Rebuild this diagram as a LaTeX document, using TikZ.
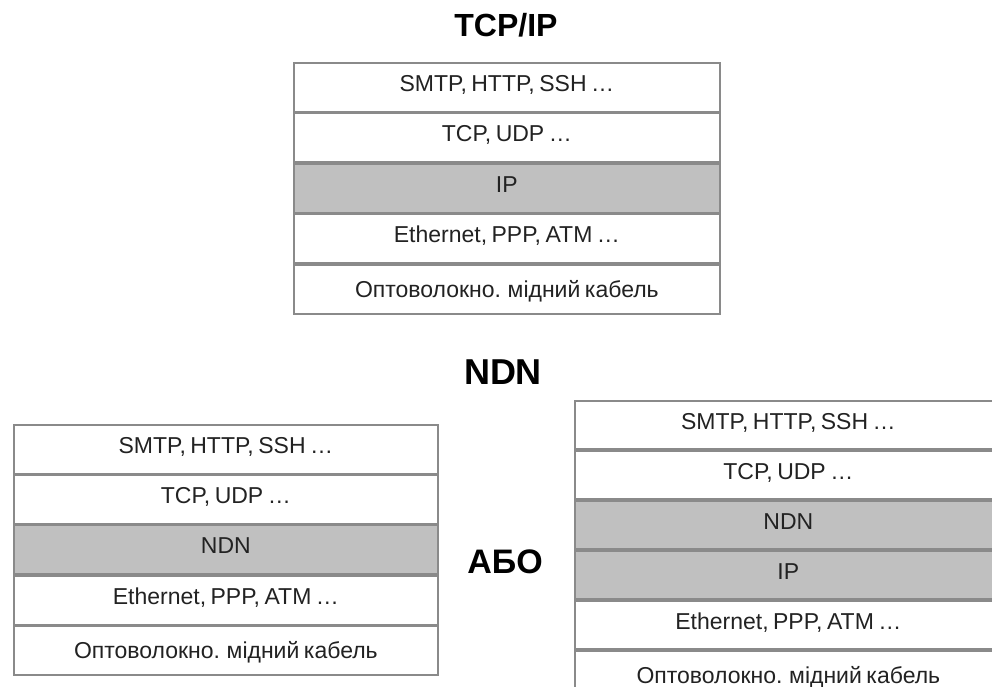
\documentclass[tikz,border=0pt]{standalone}
\usepackage{fontspec}
\setmainfont{Liberation Sans}
\newfontfamily\cellfont[WordSpace=0.7]{Liberation Sans}
\definecolor{lineg}{RGB}{138,138,138}
\definecolor{cellg}{RGB}{192,192,192}
\definecolor{txt}{RGB}{34,34,34}
\begin{document}
\begin{tikzpicture}[x=1pt,y=-1pt,
  cell/.style={draw=lineg, line width=1.7pt, fill=white, inner sep=0pt,
    anchor=north west, text=txt, font=\cellfont\fontsize{23}{27}\selectfont,
    text height=12.2pt, text depth=4pt},
  topcell/.style={cell, minimum width=426pt, minimum height=48.8pt},
  leftcell/.style={cell, minimum width=424pt, minimum height=48.6pt},
  rightcell/.style={cell, minimum width=427pt, minimum height=48.3pt},
  shaded/.style={fill=cellg},
  lastrow/.style={text height=16pt, text depth=0pt},
  title/.style={anchor=base, text=black}]
\useasboundingbox (0,0) rectangle (992,686);
\clip (0,0) rectangle (992,686);
% titles
\node[title, font=\bfseries\fontsize{32}{38}\selectfont] (t1) at (506,36) {TCP/IP};
\node[title, font=\bfseries\fontsize{36}{42}\selectfont] (t2) at (503,384) {NDN};
\node[title, font=\bfseries\fontsize{34}{40}\selectfont] (abo) at (505,573) {АБО};
% TCP/IP stack
\node[topcell] (a1) at (293,62) {SMTP, HTTP, SSH …};
\node[topcell] (a2) at (a1.south west) {TCP, UDP …};
\node[topcell, shaded] (a3) at (a2.south west) {IP};
\node[topcell] (a4) at (a3.south west) {Ethernet, PPP, ATM …};
\node[topcell, lastrow] (a5) at (a4.south west) {Оптоволокно. мідний кабель};
% NDN stack (left)
\node[leftcell] (b1) at (13,424) {SMTP, HTTP, SSH …};
\node[leftcell] (b2) at (b1.south west) {TCP, UDP …};
\node[leftcell, shaded] (b3) at (b2.south west) {NDN};
\node[leftcell] (b4) at (b3.south west) {Ethernet, PPP, ATM …};
\node[leftcell, lastrow] (b5) at (b4.south west) {Оптоволокно. мідний кабель};
% NDN over IP stack (right)
\node[rightcell] (c1) at (574,400) {SMTP, HTTP, SSH …};
\node[rightcell] (c2) at (c1.south west) {TCP, UDP …};
\node[rightcell, shaded] (c3) at (c2.south west) {NDN};
\node[rightcell, shaded] (c4) at (c3.south west) {IP};
\node[rightcell] (c5) at (c4.south west) {Ethernet, PPP, ATM …};
\node[rightcell, lastrow] (c6) at (c5.south west) {Оптоволокно. мідний кабель};
\end{tikzpicture}
\end{document}
